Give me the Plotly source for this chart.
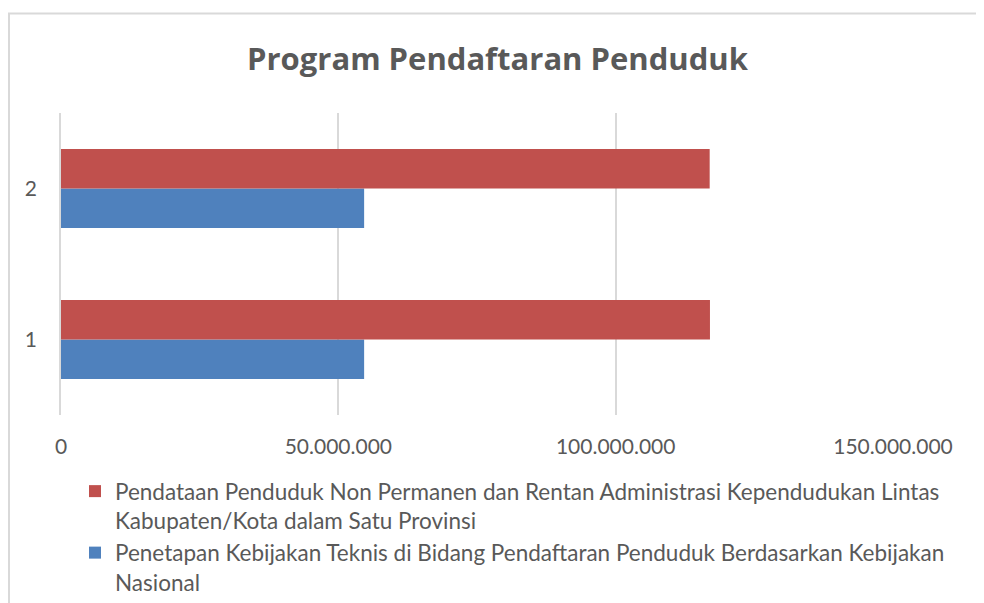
import plotly.graph_objects as go

categories = ["1", "2"]
series_names = [
    "Pendataan Penduduk Non Permanen dan Rentan Administrasi Kependudukan Lintas<br>Kabupaten/Kota dalam Satu Provinsi",
    "Penetapan Kebijakan Teknis di Bidang Pendaftaran Penduduk Berdasarkan Kebijakan<br>Nasional",
]
red_values = [117000000, 116950000]
blue_values = [54650000, 54650000]
tick_values = [0, 50000000, 100000000, 150000000]
title_text = "Program Pendaftaran Penduduk"

# page has an 8px body margin; figure sized to fit the window
OFF = 8
W, H = 984 - OFF, 603 - OFF
ML, MR, MT, MB = 61 - OFF, 91, 113 - OFF, 188
PW, PH = W - ML - MR, H - MT - MB

def px_x(p):  # p in window pixels
    return (p - OFF - ML) / PW

def px_y(p):
    return (H - MB - (p - OFF)) / PH

FONT = "Lato"
GRAY = "#595959"

fig = go.Figure()
fig.add_trace(go.Bar(
    y=categories, x=blue_values, orientation="h", name=series_names[1],
    marker=dict(color="#4F81BD", line=dict(width=0)),
))
fig.add_trace(go.Bar(
    y=categories, x=red_values, orientation="h", name=series_names[0],
    marker=dict(color="#C0504D", line=dict(width=0)),
))

fig.update_layout(
    width=W, height=H,
    margin=dict(l=ML, r=MR, t=MT, b=MB, pad=0, autoexpand=False),
    paper_bgcolor="white", plot_bgcolor="white",
    barmode="group", bargap=0.477, bargroupgap=0,
    separators=",.",
    font=dict(family=FONT, color=GRAY, size=21),
    title=dict(text="<b>" + title_text + "</b>", x=(497.5 - OFF) / W, xanchor="center",
               y=1 - (59 - OFF) / H, yanchor="middle",
               font=dict(family="Open Sans", size=31, color=GRAY)),
    xaxis=dict(range=[0, 150000000], tickvals=tick_values, tickformat=",d",
               showgrid=True, gridcolor="#D9D9D9", gridwidth=1.5,
               zeroline=False, showline=False, ticks="",
               ticklabelstandoff=17,
               tickfont=dict(family=FONT, size=21, color=GRAY), fixedrange=True),
    yaxis=dict(type="category", range=[-0.5, 1.5], showgrid=False,
               showline=True, linecolor="#D9D9D9", linewidth=1.5,
               zeroline=False, ticks="", ticklabelstandoff=18,
               tickfont=dict(family=FONT, size=21, color=GRAY), fixedrange=True),
    legend=dict(orientation="v", traceorder="reversed", valign="top",
                x=px_x(75), xanchor="left", y=px_y(470), yanchor="top",
                font=dict(family=FONT, size=22.5, color=GRAY),
                bgcolor="rgba(0,0,0,0)", itemclick=False, itemdoubleclick=False,
                tracegroupgap=0),
    showlegend=True,
)

fig.add_shape(type="rect", xref="paper", yref="paper",
              x0=px_x(9), x1=px_x(983), y0=px_y(640), y1=px_y(13.5),
              line=dict(color="#D9D9D9", width=2), fillcolor="rgba(0,0,0,0)",
              layer="below")

fig.write_html("out.html", config={"displayModeBar": False})
